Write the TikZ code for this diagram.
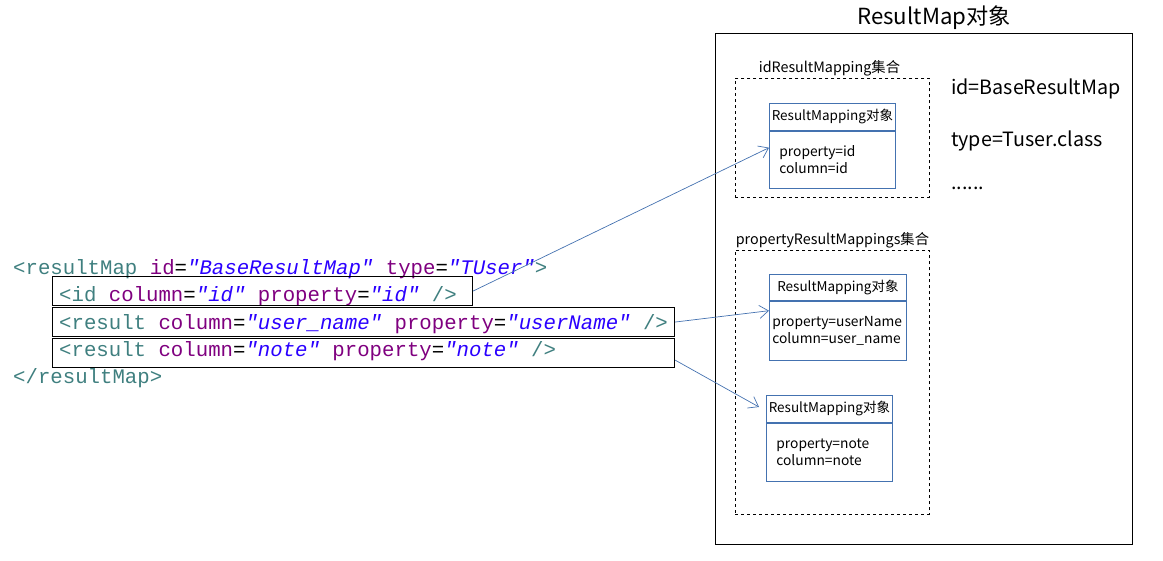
\documentclass[tikz,border=0pt]{standalone}
\usepackage{fontspec}
\usepackage{xcolor}
\usetikzlibrary{arrows.meta,positioning,calc}
\setmainfont{Noto Sans CJK SC}
\newfontfamily\codefont{Liberation Mono}
\definecolor{xmltag}{RGB}{63,127,127}
\definecolor{xmlattr}{RGB}{127,0,127}
\definecolor{xmlval}{RGB}{42,0,255}
\definecolor{mapblue}{RGB}{68,114,176}
\newcommand{\xtag}[1]{\textcolor{xmltag}{#1}}
\newcommand{\xattr}[1]{\textcolor{xmlattr}{#1}}
\newcommand{\xval}[1]{\textcolor{xmlval}{\itshape #1}}
\tikzset{
	codeline/.style={anchor=base west, inner sep=0pt, font=\codefont\fontsize{20.7}{24}\selectfont},
	codebox/.style={draw, line width=1.1pt, anchor=north west, minimum height=29pt, inner sep=0pt},
	objbox/.style={draw, line width=1pt, anchor=north west, inner sep=0pt},
	setbox/.style={draw, dashed, line width=0.9pt, anchor=north west, inner sep=0pt},
	setlabel/.style={inner sep=0pt, font=\fontsize{14.3}{17}\selectfont},
	maphead/.style={draw=mapblue, line width=0.8pt, anchor=north west, inner sep=0pt, font=\fontsize{13.5}{16}\selectfont},
	mapbody/.style={draw=mapblue, line width=0.8pt, align=left, inner ysep=0pt, font=\fontsize{13.8}{17}\selectfont},
	propline/.style={anchor=base west, inner sep=0pt, font=\fontsize{19.7}{22}\selectfont},
	maparrow/.style={draw=mapblue, line width=0.7pt, -{Straight Barb[length=9pt,width=13pt]}}
}
\begin{document}
\begin{tikzpicture}[x=1pt,y=-1pt]
			\useasboundingbox (0,0) rectangle (1163,561);
			% xml mapping
			\node[codeline] (line1) at (13,275) {\xtag{<resultMap} \xattr{id}=\xval{"BaseResultMap"} \xattr{type}=\xval{"TUser"}\xtag{>}};
			\node[codeline] (line2) at (59,302) {\xtag{<id} \xattr{column}=\xval{"id"} \xattr{property}=\xval{"id"} \xtag{/>}};
			\node[codeline] (line3) at (59,330) {\xtag{<result} \xattr{column}=\xval{"user\_name"} \xattr{property}=\xval{"userName"} \xtag{/>}};
			\node[codeline] (line4) at (59,357) {\xtag{<result} \xattr{column}=\xval{"note"} \xattr{property}=\xval{"note"} \xtag{/>}};
			\node[codeline] (line5) at (13,384) {\xtag{</resultMap>}};
			\node[codebox, minimum width=420pt] (idbox) at (52,276) {};
			\node[codebox, minimum width=622pt] (namebox) at (52,307) {};
			\node[codebox, minimum width=622pt] (notebox) at (52,338) {};
			% ResultMap object
			\node[font=\fontsize{22.2}{26}\selectfont] (rmtitle) at (934,18) {ResultMap对象};
			\node[objbox, minimum width=417pt, minimum height=511pt] (rmobj) at (715,33) {};
			\node[propline] (pid) at (951,95) {id=BaseResultMap};
			\node[propline] (ptype) at (951,147) {type=Tuser.class};
			\node[propline] (pmore) at (951,190) {......};
			\node[setbox, minimum width=194pt, minimum height=119pt] (idset) at (735,78) {};
			\node[setlabel, above=2pt of idset.north, xshift=-3pt] (idsetlbl) {idResultMapping集合};
			\node[setbox, minimum width=194pt, minimum height=264pt] (propset) at (735,250) {};
			\node[setlabel, above=2pt of propset.north] (propsetlbl) {propertyResultMappings集合};
			\node[maphead, minimum width=126pt, minimum height=27pt] (rmh1) at (769,103) {ResultMapping对象};
			\node[mapbody, below=0pt of rmh1, inner xsep=10pt, text width=106pt, minimum height=57pt] (rmb1) {property=id\\column=id};
			\node[maphead, minimum width=137pt, minimum height=26pt] (rmh2) at (769,274) {ResultMapping对象};
			\node[mapbody, below=0pt of rmh2, inner xsep=3pt, text width=131pt, minimum height=59pt] (rmb2) {property=userName\\column=user\_name};
			\node[maphead, minimum width=126pt, minimum height=27pt] (rmh3) at (766,395) {ResultMapping对象};
			\node[mapbody, below=0pt of rmh3, inner xsep=10pt, text width=106pt, minimum height=58pt] (rmb3) {property=note\\column=note};
			\draw[maparrow] (idbox.east) -- ([yshift=12pt]rmb1.west);
			\draw[maparrow] (namebox.east) -- ([yshift=20pt]rmb2.west);
			\draw[maparrow] ([yshift=8pt]notebox.south east) -- ([xshift=-7pt,yshift=-12pt]rmh3.north west);
%			\draw[maparrow] (line1.east) -- (rmh1.west);
\end{tikzpicture}
\end{document}
